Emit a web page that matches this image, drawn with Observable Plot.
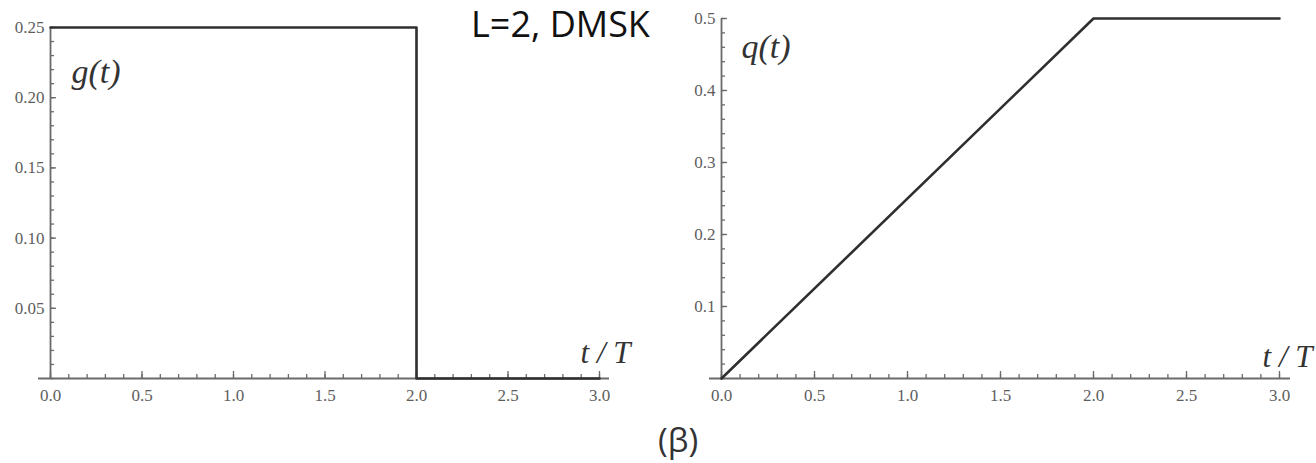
<!DOCTYPE html>
<html>
<head>
<meta charset="utf-8">
<script src="https://cdn.jsdelivr.net/npm/d3@7"></script>
<script src="https://cdn.jsdelivr.net/npm/@observablehq/plot@0.6"></script>
<style>
  html, body { margin: 0; padding: 0; background: #fff; }
  #wrap { position: relative; width: 1316px; height: 463px; overflow: hidden; }
  #left { position: absolute; left: 0; top: 0; }
  #right { position: absolute; left: 660px; top: 0; }
  .title { position: absolute; font-family: "Open Sans", sans-serif; color: #111; white-space: nowrap; }
  #main-title { left: 471px; top: 0px; font-size: 36px; line-height: 48px; }
  #sub { left: 658px; top: 420px; font-size: 33px; line-height: 40px; color: #333; }
</style>
</head>
<body>
<div id="wrap">
  <div id="left"></div>
  <div id="right"></div>
  <div class="title" id="main-title">L=2, DMSK</div>
  <div class="title" id="sub">(β)</div>
</div>
<script>
// ---- data ----
const gTime = [0, 2, 2, 3];
const gValues = [0.25, 0.25, 0, 0];
const qTime = [0, 2, 3];
const qValues = [0, 0.5, 0.5];
const xTickLabels = [0, 0.5, 1, 1.5, 2, 2.5, 3];
const gTickLabels = [0.05, 0.10, 0.15, 0.20, 0.25];
const qTickLabels = [0.1, 0.2, 0.3, 0.4, 0.5];
const xMinorTicks = d3.range(0, 31).map(i => i / 10);
const gMinorTicks = d3.range(0, 26).map(i => i / 100);
const qMinorTicks = d3.range(0, 26).map(i => i / 50);

const gData = gTime.map((t, i) => ({t, v: gValues[i]}));
const qData = qTime.map((t, i) => ({t, v: qValues[i]}));

const axisColor = "#6a6a6a";
const lineColor = "#2f2f2f";
const labelColor = "#5e5e5e";

function panel({data, width, yDomain, yLabels, yMinor, yFormat, fnLabel, fnDx, fnDy, tDx, tDy, marginLeft, marginRight, marginTop, axisInsetLeft, axisInsetRight}) {
  return Plot.plot({
    width,
    height: 420,
    marginLeft, marginRight, marginTop, marginBottom: 42,
    style: {fontFamily: "'Liberation Serif', 'Times New Roman', serif", fontSize: "17px", color: labelColor, background: "transparent", overflow: "visible"},
    x: {domain: [0, 3]},
    y: {domain: yDomain},
    marks: [
      // minor & major ticks (pointing inward)
      Plot.axisX({ticks: xMinorTicks, tickSize: -4, tickFormat: () => "", label: null, stroke: axisColor, strokeWidth: 1.3}),
      Plot.axisX({ticks: xTickLabels, tickSize: -7, tickFormat: () => "", label: null, stroke: axisColor, strokeWidth: 1.3}),
      Plot.axisY({ticks: yMinor, tickSize: -4, tickFormat: () => "", label: null, stroke: axisColor, strokeWidth: 1.3}),
      Plot.axisY({ticks: yLabels, tickSize: -6, tickFormat: () => "", label: null, stroke: axisColor, strokeWidth: 1.3}),
      // labels
      Plot.axisX({ticks: xTickLabels, tickSize: 0, tickPadding: 10, tickFormat: d3.format(".1f"), label: null, fill: labelColor, fontSize: 17}),
      Plot.axisY({ticks: yLabels, tickSize: 0, tickPadding: 6, tickFormat: d3.format(yFormat), label: null, fill: labelColor, fontSize: 17}),
      // axis lines
      Plot.ruleX([0], {stroke: axisColor, strokeWidth: 1.8}),
      Plot.ruleY([0], {stroke: axisColor, strokeWidth: 1.8, insetLeft: axisInsetLeft, insetRight: axisInsetRight}),
      // curve
      Plot.line(data, {x: "t", y: "v", stroke: lineColor, strokeWidth: 2.6}),
      // function label
      Plot.text([fnLabel], {frameAnchor: "top-left", text: d => d, dx: fnDx, dy: fnDy, textAnchor: "start", lineAnchor: "middle", fontSize: 34, fontStyle: "italic", fill: "#333", fontFamily: "'Liberation Serif', serif"}),
      Plot.text(["t / T"], {frameAnchor: "bottom-right", text: d => d, dx: tDx, dy: tDy, textAnchor: "end", lineAnchor: "middle", fontSize: 31, fontStyle: "italic", fill: "#333", fontFamily: "'Liberation Serif', serif"})
    ]
  });
}

document.getElementById("left").appendChild(panel({
  data: gData, width: 660, yDomain: [0, 0.25], yLabels: gTickLabels, yMinor: gMinorTicks, yFormat: ".2f",
  fnLabel: "g(t)", fnDx: 21, fnDy: 45, tDx: 31, tDy: -25,
  marginLeft: 50, marginRight: 61, marginTop: 27, axisInsetLeft: -12, axisInsetRight: -10
}));

document.getElementById("right").appendChild(panel({
  data: qData, width: 656, yDomain: [0, 0.5], yLabels: qTickLabels, yMinor: qMinorTicks, yFormat: ".1f",
  fnLabel: "q(t)", fnDx: 20, fnDy: 29, tDx: 33, tDy: -21,
  marginLeft: 61, marginRight: 37, marginTop: 18, axisInsetLeft: -12, axisInsetRight: -11
}));
</script>
</body>
</html>
